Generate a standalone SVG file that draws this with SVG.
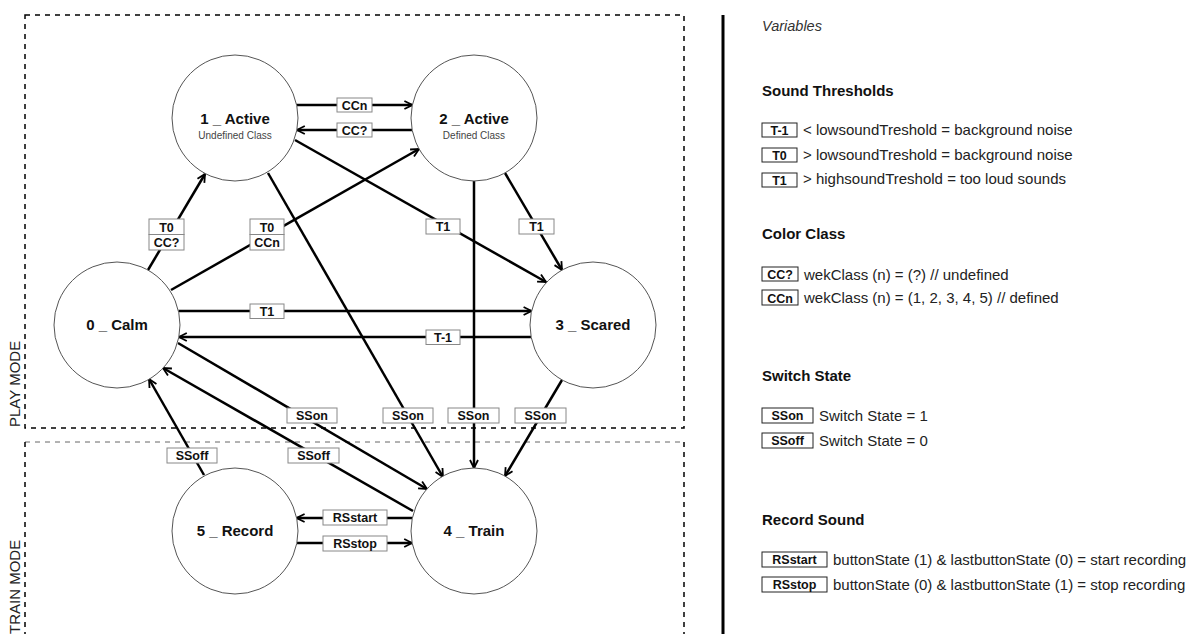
<svg xmlns="http://www.w3.org/2000/svg" width="1189" height="634" viewBox="0 0 1189 634">
<style>
.node circle{fill:#fff;stroke:#555;stroke-width:1}
.title{font-family:"Liberation Sans",Arial,sans-serif;font-weight:bold;font-size:15px;fill:#111;text-anchor:middle}
.sub{font-family:"Liberation Sans",Arial,sans-serif;font-size:10px;fill:#444;text-anchor:middle}
.edge{stroke:#000;stroke-width:2.5;fill:none}
.lb rect{fill:#fff;stroke:#888;stroke-width:1}
.lb text,.lt{font-family:"Liberation Sans",Arial,sans-serif;font-weight:bold;font-size:12.5px;fill:#111;text-anchor:middle}
.dash{stroke:#000;stroke-width:1.5;stroke-dasharray:5 5;fill:none}
.dash2{stroke:#666;stroke-width:1;stroke-dasharray:5 5;fill:none}
.mode{font-family:"Liberation Sans",Arial,sans-serif;font-size:15px;fill:#222}
.lg rect{fill:#fff;stroke:#222;stroke-width:1}
.lgt{font-family:"Liberation Sans",Arial,sans-serif;font-size:15px;fill:#222}
.hd{font-family:"Liberation Sans",Arial,sans-serif;font-weight:bold;font-size:15px;fill:#111}
</style>
<defs>
<marker id="arr" viewBox="0 0 10 10" refX="9" refY="5" markerWidth="10" markerHeight="10" markerUnits="userSpaceOnUse" orient="auto">
<path d="M1,1 L9,5 L1,9" fill="none" stroke="#000" stroke-width="1.8"/>
</marker>
</defs>
<rect width="1189" height="634" fill="#fff"/>
<g id="frames">
<path class="dash" d="M25,15 H684 V428 H25 Z"/>
<path class="dash2" d="M25,442 H684"/>
<path class="dash" d="M25,442 V634 M684,442 V634"/>
<text class="mode" transform="translate(20,427) rotate(-90)">PLAY MODE</text>
<text class="mode" transform="translate(20,634) rotate(-90)">TRAIN MODE</text>
<line x1="723" y1="15" x2="723" y2="634" stroke="#000" stroke-width="3"/>
</g>
<g id="connectors">
<line class="edge" x1="296.6" y1="105" x2="412.4" y2="105" marker-end="url(#arr)"/>
<line class="edge" x1="412.2" y1="130" x2="296.8" y2="130" marker-end="url(#arr)"/>
<line class="edge" x1="148" y1="270" x2="205" y2="174" marker-end="url(#arr)"/>
<line class="edge" x1="171" y1="290" x2="419" y2="149" marker-end="url(#arr)"/>
<line class="edge" x1="295" y1="140" x2="546" y2="282" marker-end="url(#arr)"/>
<line class="edge" x1="505" y1="173" x2="562" y2="270" marker-end="url(#arr)"/>
<line class="edge" x1="178.4" y1="311" x2="531.6" y2="311" marker-end="url(#arr)"/>
<line class="edge" x1="531.2" y1="337" x2="178.8" y2="337" marker-end="url(#arr)"/>
<line class="edge" x1="268" y1="173" x2="443" y2="477" marker-end="url(#arr)"/>
<line class="edge" x1="474" y1="181" x2="474" y2="468" marker-end="url(#arr)"/>
<line class="edge" x1="562" y1="380" x2="505" y2="476" marker-end="url(#arr)"/>
<line class="edge" x1="178" y1="343" x2="427" y2="489" marker-end="url(#arr)"/>
<line class="edge" x1="413" y1="511" x2="163" y2="368" marker-end="url(#arr)"/>
<line class="edge" x1="204" y1="475" x2="149" y2="379" marker-end="url(#arr)"/>
<line class="edge" x1="412.4" y1="518" x2="296.6" y2="518" marker-end="url(#arr)"/>
<line class="edge" x1="296.8" y1="543" x2="412.2" y2="543" marker-end="url(#arr)"/>
</g>
<g id="edge-labels">
<g class="lb"><rect x="337" y="98" width="35" height="14"/><text x="354.5" y="109.5">CCn</text></g>
<g class="lb"><rect x="337" y="123" width="35" height="14"/><text x="354.5" y="134.5">CC?</text></g>
<g class="lb"><rect x="149" y="219" width="35" height="15.5"/><rect x="149" y="234.5" width="35" height="15.5"/><text x="166.5" y="231.5">T0</text><text x="166.5" y="247">CC?</text></g>
<g class="lb"><rect x="250" y="219" width="34" height="15.5"/><rect x="250" y="234.5" width="34" height="15.5"/><text x="267" y="231.5">T0</text><text x="267" y="247">CCn</text></g>
<g class="lb"><rect x="426" y="219" width="34" height="15"/><text x="443" y="231">T1</text></g>
<g class="lb"><rect x="519" y="219" width="35" height="15"/><text x="536.5" y="231">T1</text></g>
<g class="lb"><rect x="250" y="304" width="34" height="14.5"/><text x="267" y="316">T1</text></g>
<g class="lb"><rect x="426" y="330" width="34" height="14.5"/><text x="443" y="342">T-1</text></g>
<g class="lb"><rect x="287" y="408" width="50" height="15"/><text x="312" y="420">SSon</text></g>
<g class="lb"><rect x="383" y="408" width="50" height="15"/><text x="408" y="420">SSon</text></g>
<g class="lb"><rect x="448" y="408" width="51" height="15"/><text x="473.5" y="420">SSon</text></g>
<g class="lb"><rect x="515" y="408" width="51" height="15"/><text x="540.5" y="420">SSon</text></g>
<g class="lb"><rect x="167" y="448" width="50" height="15"/><text x="192" y="460">SSoff</text></g>
<g class="lb"><rect x="288" y="448" width="51" height="15"/><text x="313.5" y="460">SSoff</text></g>
<g class="lb"><rect x="323" y="510" width="64" height="15"/><text x="355" y="522">RSstart</text></g>
<g class="lb"><rect x="323" y="536" width="64" height="15"/><text x="355" y="548">RSstop</text></g>
</g>
<g id="node0" class="node"><circle cx="117" cy="325" r="63"/><text class="title" x="117" y="330">0 _ Calm</text></g>
<g id="node1" class="node"><circle cx="235" cy="118" r="63"/><text class="title" x="235" y="124">1 _ Active</text><text class="sub" x="235" y="139">Undefined Class</text></g>
<g id="node2" class="node"><circle cx="474" cy="118" r="63"/><text class="title" x="474" y="124">2 _ Active</text><text class="sub" x="474" y="139">Defined Class</text></g>
<g id="node3" class="node"><circle cx="593" cy="325" r="63"/><text class="title" x="593" y="330">3 _ Scared</text></g>
<g id="node4" class="node"><circle cx="474" cy="531" r="63"/><text class="title" x="474" y="536">4 _ Train</text></g>
<g id="node5" class="node"><circle cx="235" cy="531" r="63"/><text class="title" x="235" y="536">5 _ Record</text></g>
<g id="legend">
<text x="762" y="31" font-family="Liberation Sans, Arial, sans-serif" font-style="italic" font-size="14.5" fill="#333">Variables</text>
<text class="hd" x="762" y="96">Sound Thresholds</text>
<g class="lg"><rect x="762" y="123" width="35" height="14"/><text class="lt" x="779.5" y="135">T-1</text></g>
<text class="lgt" x="803" y="135">&lt; lowsoundTreshold = background noise</text>
<g class="lg"><rect x="762" y="148" width="35" height="14"/><text class="lt" x="779.5" y="160">T0</text></g>
<text class="lgt" x="803" y="160">&gt; lowsoundTreshold = background noise</text>
<g class="lg"><rect x="762" y="173" width="35" height="14"/><text class="lt" x="779.5" y="185">T1</text></g>
<text class="lgt" x="803" y="184">&gt; highsoundTreshold = too loud sounds</text>
<text class="hd" x="762" y="239">Color Class</text>
<g class="lg"><rect x="762" y="267" width="36" height="14"/><text class="lt" x="780" y="279">CC?</text></g>
<text class="lgt" x="804" y="280">wekClass (n) = (?) // undefined</text>
<g class="lg"><rect x="762" y="290" width="36" height="15"/><text class="lt" x="780" y="302.5">CCn</text></g>
<text class="lgt" x="804" y="303">wekClass (n) = (1, 2, 3, 4, 5) // defined</text>
<text class="hd" x="762" y="381">Switch State</text>
<g class="lg"><rect x="762" y="408" width="51" height="15"/><text class="lt" x="787.5" y="420">SSon</text></g>
<text class="lgt" x="819" y="421">Switch State = 1</text>
<g class="lg"><rect x="762" y="433" width="51" height="15"/><text class="lt" x="787.5" y="445">SSoff</text></g>
<text class="lgt" x="819" y="446">Switch State = 0</text>
<text class="hd" x="762" y="525">Record Sound</text>
<g class="lg"><rect x="762" y="552" width="65" height="15"/><text class="lt" x="794.5" y="564">RSstart</text></g>
<text class="lgt" x="833" y="565">buttonState (1) &amp; lastbuttonState (0) = start recording</text>
<g class="lg"><rect x="762" y="577" width="65" height="15"/><text class="lt" x="794.5" y="589">RSstop</text></g>
<text class="lgt" x="833" y="590">buttonState (0) &amp; lastbuttonState (1) = stop recording</text>
</g>
</svg>
